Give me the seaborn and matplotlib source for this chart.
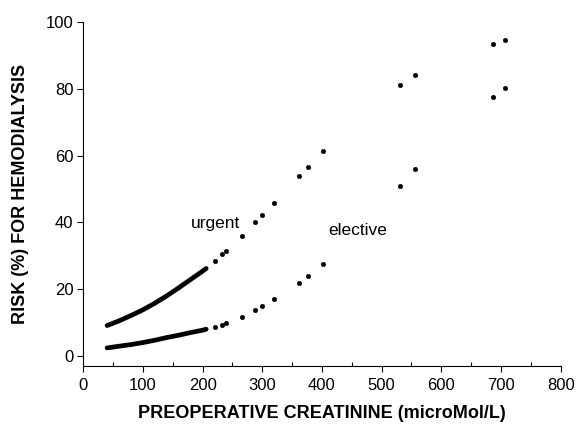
import numpy as np
import pandas as pd
import matplotlib
matplotlib.use("Agg")
import matplotlib.pyplot as plt
import seaborn as sns
from matplotlib.ticker import MultipleLocator

# dense part of the curves
dense_x = [40, 60, 80, 100, 120, 140, 160, 180, 200, 206]
urgent_dense = [9.1, 10.5, 12.1, 13.8, 15.8, 18.0, 20.4, 22.9, 25.4, 26.2]
elective_dense = [2.4, 2.9, 3.4, 4.0, 4.7, 5.5, 6.2, 7.0, 7.7, 8.0]

# isolated points
sparse_x = [220, 233, 240, 266, 288, 299, 319, 361, 376, 401, 530, 556, 686, 706]
urgent_sparse = [28.3, 30.4, 31.5, 35.9, 40.0, 42.2, 45.7, 53.9, 56.7, 61.4, 81.2, 84.1, 93.5, 94.5]
elective_sparse = [8.6, 9.3, 10.0, 11.8, 13.8, 15.0, 16.9, 21.9, 23.9, 27.6, 50.9, 55.9, 77.6, 80.2]

sns.set_style("ticks")
plt.rcParams['font.family'] = ['Liberation Sans', 'DejaVu Sans']
plt.rcParams.update({"text.color": "black", "axes.labelcolor": "black",
                     "xtick.color": "black", "ytick.color": "black"})

fig = plt.figure(figsize=(5.78, 4.25), dpi=100)
ax = fig.add_axes([0.144, 0.139, 0.826, 0.809])

dense = pd.DataFrame({"x": dense_x * 2,
                      "risk": urgent_dense + elective_dense,
                      "group": ["urgent"] * len(dense_x) + ["elective"] * len(dense_x)})
sparse = pd.DataFrame({"x": sparse_x * 2,
                       "risk": urgent_sparse + elective_sparse,
                       "group": ["urgent"] * len(sparse_x) + ["elective"] * len(sparse_x)})

sns.lineplot(data=dense, x="x", y="risk", units="group", estimator=None,
             color="black", linewidth=3.4, solid_capstyle="round", ax=ax)
sns.scatterplot(data=sparse, x="x", y="risk", color="black", s=11,
                edgecolor="black", linewidth=0.3, ax=ax)

ax.text(221, 39.8, "urgent", fontsize=12.5, ha="center", va="center")
ax.text(460, 37.7, "elective", fontsize=12.5, ha="center", va="center")

ax.set_xlim(0, 800)
ax.set_ylim(-3, 100)
ax.xaxis.set_major_locator(MultipleLocator(100))
ax.xaxis.set_minor_locator(MultipleLocator(50))
ax.yaxis.set_major_locator(MultipleLocator(20))
ax.tick_params(axis="both", which="major", length=4, width=0.8, labelsize=12,
               color="black", labelcolor="black")
ax.tick_params(axis="x", which="minor", direction="in", length=3, width=0.8, color="black")
ax.tick_params(axis="x", which="major", pad=5)
ax.tick_params(axis="y", which="major", pad=3)

ax.set_xlabel("PREOPERATIVE CREATININE (microMol/L)", fontsize=13, fontweight="bold",
              labelpad=8, color="black")
ax.set_ylabel("RISK (%) FOR HEMODIALYSIS", fontsize=13, fontweight="bold",
              labelpad=12, color="black")

for side in ["top", "right"]:
    ax.spines[side].set_visible(False)
for side in ["left", "bottom"]:
    ax.spines[side].set_color("black")
    ax.spines[side].set_linewidth(0.8)

fig.savefig("out.png", dpi=100)
